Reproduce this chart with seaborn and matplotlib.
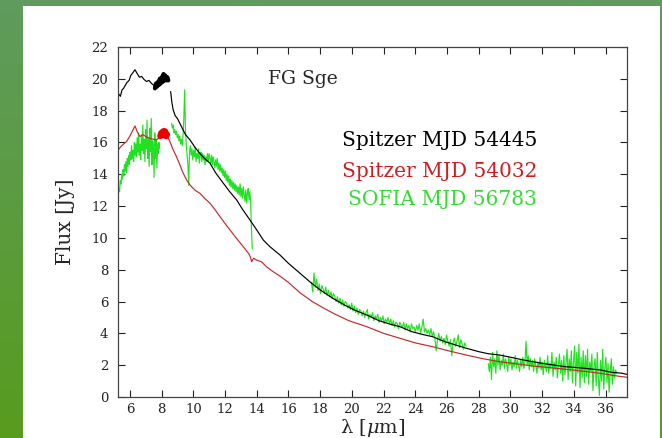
import numpy as np
import pandas as pd
import matplotlib
matplotlib.use("Agg")
import matplotlib.pyplot as plt
from matplotlib.patches import Rectangle
import seaborn as sns

# ---------------- data ----------------
# Spitzer MJD 54445 (black)
black_lam = [5.26, 5.4, 5.5, 5.6, 5.8, 5.95, 6.05, 6.2, 6.32, 6.45, 6.6, 6.74, 6.9, 7.05, 7.2, 7.37, 7.5, 7.58]
black_flux = [19.1, 18.9, 19.3, 19.4, 19.75, 19.9, 20.2, 20.4, 20.57, 20.35, 20.1, 20.15, 19.95, 19.83, 19.9, 19.7, 19.6, 19.4]
black_blob_lam = [7.58, 7.64, 7.7, 7.76, 7.82, 7.88, 7.94, 8.0, 8.06, 8.12, 8.18, 8.24, 8.3, 8.36, 8.42]
black_blob_flux = [19.4, 19.7, 19.5, 19.8, 19.6, 20.0, 19.7, 20.1, 19.8, 20.3, 19.9, 20.2, 19.9, 20.1, 19.9]
black2_lam = [8.57, 8.65, 8.73, 8.85, 9.0, 9.15, 9.3, 9.5, 9.79, 10.1, 10.42, 10.7, 11.05, 11.4, 11.89,
              12.3, 12.73, 13.1, 13.57, 14.0, 14.41, 14.83, 15.46, 16.0, 16.7, 17.4, 18.0, 18.8, 19.5,
              20.2, 20.93, 21.7, 22.4, 23.03, 23.8, 24.5, 25.1, 25.8, 26.5, 27.2, 28.0, 28.6, 29.3,
              30.0, 30.7, 31.4, 32.1, 32.8, 33.5, 34.2, 34.9, 35.65, 36.4, 37.0, 37.35]
black2_flux = [19.2, 18.5, 18.05, 17.7, 17.5, 17.2, 16.9, 16.5, 16.16, 15.7, 15.3, 15.0, 14.7, 14.1, 13.44,
               12.9, 12.39, 11.8, 11.13, 10.5, 9.87, 9.45, 8.93, 8.4, 7.8, 7.2, 6.73, 6.2, 5.8,
               5.45, 5.16, 4.8, 4.58, 4.42, 4.1, 3.92, 3.79, 3.5, 3.28, 3.07, 2.85, 2.72, 2.64,
               2.5, 2.35, 2.22, 2.1, 2.0, 1.9, 1.85, 1.78, 1.70, 1.55, 1.5, 1.42]

# Spitzer MJD 54032 (red)
red_lam = [5.26, 5.4, 5.6, 5.79, 6.0, 6.2, 6.32, 6.45, 6.63, 6.8, 7.05, 7.3, 7.5, 7.68, 7.85, 7.9,
           8.4, 8.52, 8.7, 8.94, 9.15, 9.36, 9.6, 9.79, 10.1, 10.42, 10.7, 11.05, 11.35, 11.68, 12.0,
           12.31, 12.7, 13.15, 13.5, 13.6, 13.68, 13.8, 14.0, 14.3, 14.6, 15.0, 15.46, 16.0, 16.73,
           17.5, 18.2, 18.83, 19.8, 20.93, 22.0, 23.03, 24.0, 25.1, 26.1, 27.2, 28.2, 29.3, 30.4,
           31.4, 32.5, 33.5, 34.6, 35.65, 36.5, 37.35]
red_flux = [15.53, 15.7, 15.9, 16.06, 16.4, 16.8, 17.04, 16.7, 16.37, 16.5, 16.35, 16.25, 16.2, 16.16, 16.3, 16.3,
            16.3, 16.06, 15.6, 15.1, 14.6, 14.07, 13.6, 13.33, 13.0, 12.8, 12.5, 12.18, 11.8, 11.34, 10.9,
            10.5, 10.0, 9.45, 9.0, 8.8, 8.5, 8.72, 8.6, 8.5, 8.2, 7.9, 7.6, 7.2, 6.55,
            6.0, 5.6, 5.26, 4.8, 4.42, 4.0, 3.69, 3.4, 3.16, 2.9, 2.64, 2.42, 2.22, 2.08,
            1.95, 1.84, 1.74, 1.62, 1.49, 1.35, 1.24]
red_blob_lam = [7.92, 7.98, 8.04, 8.1, 8.16, 8.22, 8.28, 8.34]
red_blob_flux = [16.4, 16.6, 16.5, 16.7, 16.5, 16.7, 16.4, 16.5]

# SOFIA MJD 56783 (green), four spectral segments
sofia1_range = (5.26, 7.88)
sofia1_flux = [12.7, 13.1, 12.9, 13.6, 13.4, 14.0, 13.7, 14.3, 13.9, 14.6,
               14.2, 14.8, 14.1, 15.0, 14.5, 15.2, 14.6, 15.4, 14.9, 15.8,
               15.0, 15.5, 14.8, 16.0, 15.2, 15.9, 15.1, 16.3, 15.4, 16.6,
               15.2, 15.9, 14.9, 16.4, 15.5, 17.1, 15.3, 16.2, 14.8, 16.8,
               15.6, 17.4, 15.0, 16.3, 14.5, 16.9, 15.4, 17.5, 14.6, 16.1,
               15.8, 13.8, 16.6, 15.0, 16.2, 14.4, 15.9, 15.3, 16.0, 15.6]
sofia2_range = (8.63, 13.72)
sofia2_flux = [17.2, 16.9, 17.1, 16.6, 16.8, 16.5, 16.7, 16.3, 16.5, 16.1, 16.4, 15.9,
               16.2, 15.8, 16.4, 17.5, 19.3, 16.8, 15.9, 15.2, 14.6, 13.3, 15.4, 15.8,
               15.2, 15.6, 14.9, 15.5, 15.1, 15.7, 14.8, 15.3, 15.0, 15.6, 14.7, 15.2, 15.4, 14.8, 15.3, 14.9,
               15.2, 14.6, 15.1, 14.8, 15.3, 14.8, 15.3, 15.0, 14.7, 15.2, 14.6, 15.1, 14.8, 14.4, 14.9, 14.5, 15.0, 14.3, 14.7, 14.2,
               14.6, 14.1, 14.4, 13.9, 14.3, 13.8, 14.2, 13.6, 14.0, 13.5, 13.9, 13.3, 13.7, 13.2, 13.6, 13.1, 13.5, 13.0, 13.4, 12.9,
               13.3, 12.8, 13.2, 12.7, 13.4, 12.6, 13.1, 12.5, 13.2, 12.7, 12.3, 13.0, 12.2, 12.8, 13.1, 12.4, 12.9, 12.1, 10.5, 9.3]
sofia3_range = (17.45, 27.2)
sofia3_flux = [7.2, 6.6, 7.8, 6.9, 7.4, 6.7, 7.1, 6.5, 7.0, 6.8,
               6.5, 6.9, 6.4, 6.7, 6.3, 6.6, 6.2, 6.5, 6.3, 6.0,
               6.3, 5.9, 6.2, 5.8, 6.1, 5.7, 6.0, 5.9, 5.6, 5.8,
               5.5, 5.9, 5.4, 5.7, 5.3, 5.6, 5.2, 5.5, 5.4, 5.1,
               5.4, 5.0, 5.3, 5.5, 4.9, 5.2, 5.0, 5.3, 4.8, 5.1,
               4.9, 5.2, 4.7, 5.0, 4.8, 5.1, 4.6, 4.9, 4.7, 5.0,
               4.6, 4.9, 4.5, 4.8, 4.4, 4.7, 4.6, 4.3, 4.7, 4.5,
               4.4, 4.7, 4.2, 4.6, 4.3, 4.5, 4.1, 4.6, 4.3, 4.4,
               4.1, 4.5, 4.2, 4.6, 4.0, 4.4, 4.9, 4.1, 4.3, 4.0,
               4.2, 3.9, 4.3, 3.8, 4.1, 3.7, 2.9, 3.6, 4.0, 3.5,
               3.8, 3.4, 3.7, 3.3, 3.9, 3.5, 3.2, 3.6, 2.6, 3.4,
               3.7, 3.2, 3.5, 3.9, 3.1, 3.6, 3.3, 3.0, 3.4, 3.2]
sofia4_range = (28.6, 36.7)
sofia4_flux = [2.1, 1.6, 2.5, 1.1, 2.8, 1.9, 2.4, 1.5, 2.9, 2.0,
               2.6, 1.7, 2.3, 2.0, 2.7, 1.8, 2.4, 2.1, 1.6, 2.5,
               2.0, 2.4, 1.7, 2.2, 1.9, 2.6, 1.8, 2.3, 2.0, 1.6,
               2.3, 1.9, 2.5, 1.8, 2.2, 3.5, 2.0, 2.6, 1.7, 2.4,
               1.9, 2.3, 1.6, 2.4, 2.0, 1.5, 2.2, 1.8, 2.5, 1.7,
               2.2, 1.4, 2.3, 1.9, 1.6, 2.6, 1.5, 2.1, 1.8, 2.8,
               1.3, 2.2, 1.7, 2.5, 1.2, 2.0, 2.7, 1.5, 2.3, 1.0,
               2.6, 1.4, 2.1, 3.0, 1.1, 2.4, 1.6, 2.9, 0.9, 2.2,
               3.2, 0.7, 2.8, 1.5, 3.3, 0.6, 2.5, 1.2, 2.9, 0.9,
               2.6, 1.3, 3.0, 0.8, 2.2, 1.6, 2.7, 0.4, 1.9, 2.4,
               0.7, 2.8, 1.2, 0.1, 2.3, 1.0, 3.0, 0.5, 1.8, 2.5,
               0.9, 2.1, 0.3, 1.6, 2.4, 0.8, 1.9, 1.2, 1.7, 1.5]

x_ticks = list(range(6, 37, 2))
y_ticks = list(range(0, 23, 2))
labels = ["Spitzer MJD 54445", "Spitzer MJD 54032", "SOFIA MJD 56783"]

# ---------------- build tables ----------------
def seg(lam, flux, name):
    return pd.DataFrame({"lam": lam, "flux": flux, "seg": name})

black_df = pd.concat([seg(black_lam, black_flux, "a"), seg(black2_lam, black2_flux, "b")])
black_blob_df = seg(black_blob_lam, black_blob_flux, "blob")
red_df = seg(red_lam, red_flux, "a")
red_blob_df = seg(red_blob_lam, red_blob_flux, "blob")
sofia_parts = []
for i, (rng, fl) in enumerate([(sofia1_range, sofia1_flux), (sofia2_range, sofia2_flux),
                               (sofia3_range, sofia3_flux), (sofia4_range, sofia4_flux)]):
    sofia_parts.append(seg(np.linspace(rng[0], rng[1], len(fl)), fl, f"s{i}"))
sofia_df = pd.concat(sofia_parts)

# ---------------- style ----------------
sns.set_style("ticks")
plt.rcParams["font.family"] = ["DejaVu Serif"]
plt.rcParams["mathtext.fontset"] = "dejavuserif"

W, H = 662, 438
fig = plt.figure(figsize=(W / 100, H / 100), dpi=100)

# green gradient frame
bg = fig.add_axes([0, 0, 1, 1], zorder=-10)
grad = np.linspace(0, 1, 256).reshape(-1, 1)
top = np.array([0x5f, 0x9b, 0x5e]) / 255
bot = np.array([0x58, 0x9c, 0x1e]) / 255
img = top[None, None, :] * (1 - grad[..., None]) + bot[None, None, :] * grad[..., None]
img = np.repeat(img, 2, axis=1)
bg.imshow(img, aspect="auto", extent=[0, 1, 0, 1])
bg.set_xlim(0, 1)
bg.set_ylim(0, 1)
bg.axis("off")
bg.add_patch(Rectangle((23 / W, 0), (660 - 23) / W, (H - 6) / H, facecolor="white", edgecolor="none"))

ax = fig.add_axes([118 / W, (H - 397) / H, (627 - 118) / W, (397 - 47) / H])
ax.set_facecolor("white")

lw = 0.85
sns.lineplot(data=sofia_df, x="lam", y="flux", units="seg", estimator=None, sort=False,
             color="#22e022", lw=lw, ax=ax, legend=False)
sns.lineplot(data=red_df, x="lam", y="flux", units="seg", estimator=None, sort=False,
             color="#c42a2a", lw=lw, ax=ax, legend=False)
sns.lineplot(data=red_blob_df, x="lam", y="flux", units="seg", estimator=None, sort=False,
             color="#ee0000", lw=4.5, ax=ax, legend=False)
sns.lineplot(data=black_df, x="lam", y="flux", units="seg", estimator=None, sort=False,
             color="black", lw=lw, ax=ax, legend=False)
sns.lineplot(data=black_blob_df, x="lam", y="flux", units="seg", estimator=None, sort=False,
             color="black", lw=3, ax=ax, legend=False)

ax.set_xlim(5.25, 37.35)
ax.set_ylim(0, 22)
ax.set_xticks(x_ticks)
ax.set_yticks(y_ticks)
ax.tick_params(direction="in", length=5, width=0.8, top=True, right=True,
               labelsize=9.5, colors="#222222")
ax.tick_params(axis="y", pad=7)
ax.tick_params(axis="x", pad=4)
for sp in ax.spines.values():
    sp.set_linewidth(0.9)
    sp.set_color("#444444")

ax.set_xlabel(r"λ [$\mu$m]", fontsize=14)
ax.xaxis.set_label_coords(0.5, -0.056)
ax.set_ylabel("Flux [Jy]", fontsize=14.5)
ax.yaxis.set_label_coords(-0.084, 0.5)

ax.text(14.7, 20.0, "FG Sge", fontsize=13.5, ha="left", va="center")
colors_txt = ["black", "#cc1f1f", "#33dd33"]
ys = [16.1, 14.2, 12.4]
for lab, c, y in zip(labels, colors_txt, ys):
    ax.text(31.68, y, lab, fontsize=14.5, ha="right", va="center", color=c)

fig.savefig("out.png", dpi=100)
